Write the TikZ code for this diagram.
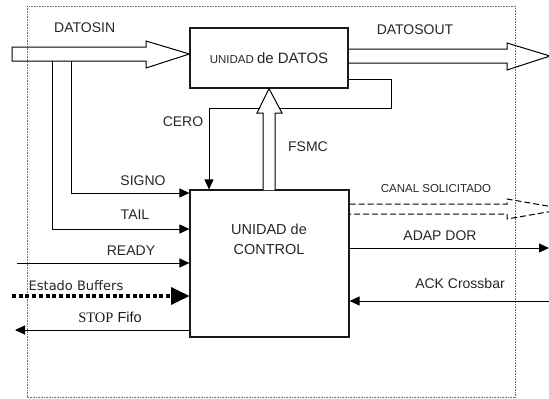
\documentclass[tikz,border=0pt]{standalone}
\usepackage{fontspec}
\setmainfont{Liberation Sans}
\newfontfamily\serifface{Liberation Serif}
\newfontfamily\dejavuface{DejaVu Sans}
\usetikzlibrary{arrows.meta}
\begin{document}
\begin{tikzpicture}[x=1pt,y=-1pt,
  blockbox/.style={draw=black!90, line width=1.2pt, inner sep=0pt},
  sig/.style={draw=black, line width=1pt},
  arr/.style={sig, -{Triangle[length=10pt,width=9pt]}},
  bus/.style={draw=black, line width=1pt, line join=miter},
  lbl/.style={font=\fontsize{14}{16}\selectfont, text=black!85, inner sep=0pt},
  smalllbl/.style={font=\fontsize{11.5}{13}\selectfont, text=black!85, inner sep=0pt},
  frame/.style={draw=black!55, line width=0.6pt, dash pattern=on 0.8pt off 0.8pt}]
\useasboundingbox (0,0) rectangle (549,399);
\clip (0,0) rectangle (549,399);

% outer dotted frame
\draw[frame] (27,6) rectangle (515,397);

% the two units
\node[blockbox, minimum width=158pt, minimum height=60pt] (datos) at (269,58)
  {\fontsize{11.5}{13}\selectfont\color{black!85}UNIDAD {\fontsize{15}{17}\selectfont de DATOS}};
\node[blockbox, minimum width=159pt, minimum height=147pt] (control) at (269.5,263.5) {};
\node[font=\fontsize{14.5}{20}\selectfont, text=black!85, align=center, inner sep=0pt] (ctltext) at (269,239)
  {UNIDAD de\\CONTROL};

% DATOSIN input bus
\draw[bus] (12,47) -- (146,47) -- (146,41) -- (datos.west |- 0,54) -- (146,68) -- (146,61) -- (12,61) -- cycle;
\node[lbl, anchor=west] (lin) at (54,28) {DATOSIN};

% DATOSOUT output bus
\draw[bus] (datos.east |- 0,49) -- (507,49) -- (507,43) -- (550,56) -- (507,70) -- (507,63) -- (datos.east |- 0,63);
\node[lbl] (lout) at (415,30) {DATOSOUT};

% signals taken from the input bus
\coordinate (tapTail) at (52,61);
\coordinate (tapSigno) at (71,61);
\draw[arr] (tapSigno) |- (control.west |- 0,193);
\draw[arr] (tapTail) |- (control.west |- 0,229);
\node[lbl] (lsigno) at (143,181) {SIGNO};
\node[lbl] (ltail) at (135,215) {TAIL};

% CERO feedback from the data unit
\draw[arr] (datos.east |- 0,79) -- (391,79) -- (391,108) -- (209,108) -- (control.north -| 209,0);
\node[lbl] (lcero) at (183,122) {CERO};

% FSMC control bus (drawn over CERO)
\draw[bus, fill=white] (263,190) -- (263,113) -- (257,113) -- (datos.south -| 269,0) -- (282,113) -- (275,113) -- (275,190);
\node[lbl] (lfsmc) at (308,147) {FSMC};

% READY
\coordinate (readySrc) at (17,263);
\draw[arr] (readySrc) -- (control.west |- readySrc);
\node[lbl] (lready) at (131,251) {READY};

% Estado Buffers
\coordinate (bufSrc) at (12,296);
\draw[draw=black, line width=4pt, dash pattern=on 4pt off 2.7pt] (bufSrc) -- (171,296);
\fill[black] (171,287) -- (control.west |- bufSrc) -- (171,305) -- cycle;
\node[font=\dejavuface\fontsize{13}{15}\selectfont, text=black!85, inner sep=0pt] (lbuf) at (76,286) {Estado Buffers};

% STOP Fifo
\coordinate (stopDst) at (15,330);
\draw[arr] (control.west |- stopDst) -- (stopDst);
\node[font=\fontsize{14.5}{16}\selectfont, text=black!90, inner sep=0pt] (lstop) at (110,317) {{\serifface STOP} Fifo};

% CANAL SOLICITADO (dashed bus)
\draw[bus, dash pattern=on 6pt off 3pt] (control.east |- 0,204) -- (507,204) -- (507,199) -- (565,209) -- (507,219) -- (507,214) -- (control.east |- 0,214);
\node[smalllbl] (lcanal) at (436,189) {CANAL SOLICITADO};

% ADAPDOR
\coordinate (adapDst) at (549,248);
\draw[arr] (control.east |- adapDst) -- (adapDst);
\node[lbl] (ladap) at (440,236) {ADAP DOR};

% ACK Crossbar
\coordinate (ackSrc) at (552,301);
\draw[arr] (ackSrc) -- (control.east |- ackSrc);
\node[lbl] (lack) at (460,283) {ACK Crossbar};
\end{tikzpicture}
\end{document}
